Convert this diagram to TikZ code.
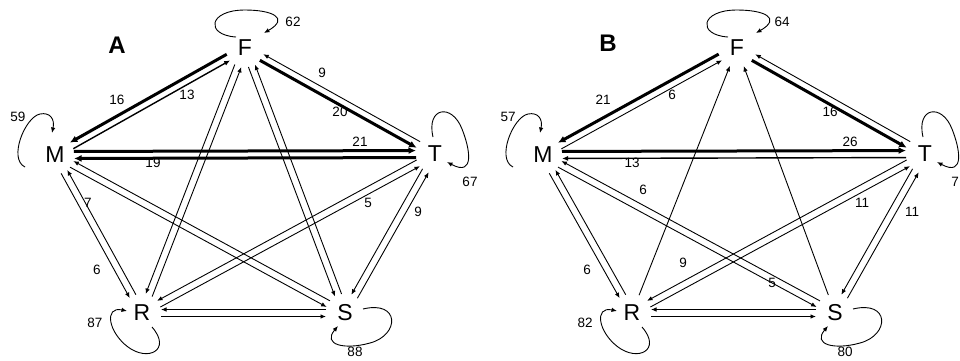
\documentclass[tikz,border=0pt]{standalone}
\usepackage{fontspec}
\setmainfont{Liberation Sans}
\usetikzlibrary{calc,arrows.meta}

% radius of the free zone round each state letter, and half gap of paired lines
\newcommand\noderad{19pt}
\newcommand\gapw{3.5pt}

% paired connector drawn on the right-hand side of travel
\newcommand\edgeR[3]{%
  \draw[#3] ($(#1.center)!\noderad!(#2.center)!\gapw!-90:(#2.center)$) --
            ($(#2.center)!\noderad!(#1.center)!\gapw!90:(#1.center)$);}
% paired connector drawn on the left-hand side of travel
\newcommand\edgeL[3]{%
  \draw[#3] ($(#1.center)!\noderad!(#2.center)!\gapw!90:(#2.center)$) --
            ($(#2.center)!\noderad!(#1.center)!\gapw!-90:(#1.center)$);}

% self loops, placed relative to their state
\newcommand\loopM[1]{\draw[thinln] ([shift={(-30,12)}]#1.center) .. controls ([shift={(-47,4)}]#1.center) and ([shift={(-30,-38)}]#1.center) .. ([shift={(-15,-41)}]#1.center) .. controls ([shift={(-5,-43)}]#1.center) and ([shift={(0,-36)}]#1.center) .. ([shift={(-3,-22)}]#1.center);}
\newcommand\loopF[1]{\draw[thinln] ([shift={(-9,-11)}]#1.center) .. controls ([shift={(-40,-13)}]#1.center) and ([shift={(-37,-38)}]#1.center) .. ([shift={(0,-38)}]#1.center) .. controls ([shift={(27,-38)}]#1.center) and ([shift={(45,-30)}]#1.center) .. ([shift={(19,-15)}]#1.center);}
\newcommand\loopT[1]{\draw[thinln] ([shift={(-2,-17)}]#1.center) .. controls ([shift={(-9,-47)}]#1.center) and ([shift={(17,-51)}]#1.center) .. ([shift={(27,-25)}]#1.center) .. controls ([shift={(35,-5)}]#1.center) and ([shift={(40,23)}]#1.center) .. ([shift={(12,8)}]#1.center);}
\newcommand\loopR[1]{\draw[thinln] ([shift={(10,14)}]#1.center) .. controls ([shift={(30,37)}]#1.center) and ([shift={(6,49)}]#1.center) .. ([shift={(-14,34)}]#1.center) .. controls ([shift={(-34,19)}]#1.center) and ([shift={(-38,-7)}]#1.center) .. ([shift={(-15,-2)}]#1.center);}
\newcommand\loopS[1]{\draw[thinln] ([shift={(18,-4)}]#1.center) .. controls ([shift={(55,-13)}]#1.center) and ([shift={(55,22)}]#1.center) .. ([shift={(25,30)}]#1.center) .. controls ([shift={(0,37)}]#1.center) and ([shift={(-23,32)}]#1.center) .. ([shift={(-7,13)}]#1.center);}

\tikzset{
  state/.style={circle, minimum size=38pt, inner sep=0pt,
                font=\fontsize{23}{23}\selectfont},
  lbl/.style={inner sep=0pt, font=\fontsize{13.5}{14}\selectfont},
  panel/.style={inner sep=0pt, font=\fontsize{24}{24}\selectfont\bfseries},
  thinln/.style={line width=0.9pt, -{Latex[length=5.5pt,width=4.5pt]}},
  midln/.style={line width=1.4pt, -{Latex[length=6pt,width=5pt]}},
  thickln/.style={line width=3pt, -{Latex[length=7.5pt,width=7pt]}},
}

\begin{document}
\begin{tikzpicture}[x=1pt,y=-1pt]
\useasboundingbox (0,0) rectangle (960,360);

% ---------------- panel A ----------------
\node[panel] (labA) at (117,45) {A};
\node[state] (Ma) at (55,155) {M};
\node[state] (Fa) at (245,48) {F};
\node[state] (Ta) at (435,154) {T};
\node[state] (Ra) at (142,313) {R};
\node[state] (Sa) at (345,313) {S};

\edgeR{Ma}{Fa}{midln}
\edgeR{Fa}{Ma}{thickln}
\edgeR{Fa}{Ta}{thickln}
\edgeR{Ta}{Fa}{thinln}
\edgeL{Ma}{Ta}{thickln}
\edgeL{Ta}{Ma}{thickln}
\edgeR{Ma}{Ra}{thinln}
\edgeR{Ra}{Ma}{thinln}
\edgeR{Ma}{Sa}{thinln}
\edgeR{Sa}{Ma}{thinln}
\edgeR{Ra}{Fa}{thinln}
\edgeR{Fa}{Ra}{thinln}
\edgeR{Sa}{Fa}{thinln}
\edgeR{Fa}{Sa}{thinln}
\edgeR{Ra}{Ta}{thinln}
\edgeR{Ta}{Ra}{thinln}
\edgeR{Sa}{Ta}{thinln}
\edgeR{Ta}{Sa}{thinln}
\edgeR{Ra}{Sa}{thinln}
\edgeR{Sa}{Ra}{thinln}

\loopM{Ma} \loopF{Fa} \loopT{Ta} \loopR{Ra} \loopS{Sa}

\node[lbl] (a16) at (117,100) {16};
\node[lbl] (a13) at (187,95) {13};
\node[lbl] (a9t) at (322,73) {9};
\node[lbl] (a20) at (340,112) {20};
\node[lbl] (a21) at (360,142) {21};
\node[lbl] (a19) at (153,163) {19};
\node[lbl] (a7) at (88,203) {7};
\node[lbl] (a6) at (97,270) {6};
\node[lbl] (a5) at (368,203) {5};
\node[lbl] (a9s) at (418,212) {9};
\node[lbl] (a59) at (18,117) {59};
\node[lbl] (a62) at (293,22) {62};
\node[lbl] (a67) at (470,182) {67};
\node[lbl] (a87) at (95,323) {87};
\node[lbl] (a88) at (355,352) {88};

% ---------------- panel B ----------------
\node[panel] (labB) at (608,43) {B};
\node[state] (Mb) at (543,155) {M};
\node[state] (Fb) at (737,48) {F};
\node[state] (Tb) at (925,154) {T};
\node[state] (Rb) at (632,313) {R};
\node[state] (Sb) at (835,313) {S};

\edgeR{Mb}{Fb}{thinln}
\edgeR{Fb}{Mb}{thickln}
\edgeR{Fb}{Tb}{thickln}
\edgeR{Tb}{Fb}{thinln}
\edgeL{Mb}{Tb}{thickln}
\edgeL{Tb}{Mb}{midln}
\edgeR{Mb}{Rb}{thinln}
\edgeR{Rb}{Mb}{thinln}
\edgeR{Mb}{Sb}{thinln}
\edgeR{Sb}{Mb}{thinln}
\draw[thinln] (Rb) -- (Fb);
\draw[thinln] (Sb) -- (Fb);
\edgeR{Rb}{Tb}{thinln}
\edgeR{Tb}{Rb}{thinln}
\edgeR{Sb}{Tb}{thinln}
\edgeR{Tb}{Sb}{thinln}
\edgeR{Rb}{Sb}{thinln}
\edgeR{Sb}{Rb}{thinln}

\loopM{Mb} \loopF{Fb} \loopT{Tb} \loopR{Rb} \loopS{Sb}

\node[lbl] (b21) at (603,100) {21};
\node[lbl] (b6f) at (672,95) {6};
\node[lbl] (b16) at (830,112) {16};
\node[lbl] (b26) at (850,142) {26};
\node[lbl] (b13) at (632,163) {13};
\node[lbl] (b6s) at (643,190) {6};
\node[lbl] (b6r) at (587,270) {6};
\node[lbl] (b9) at (683,263) {9};
\node[lbl] (b11r) at (862,203) {11};
\node[lbl] (b11s) at (912,212) {11};
\node[lbl] (b5) at (772,283) {5};
\node[lbl] (b57) at (508,117) {57};
\node[lbl] (b64) at (782,22) {64};
\node[lbl] (b7) at (955,182) {7};
\node[lbl] (b82) at (585,323) {82};
\node[lbl] (b80) at (845,352) {80};
\end{tikzpicture}
\end{document}
